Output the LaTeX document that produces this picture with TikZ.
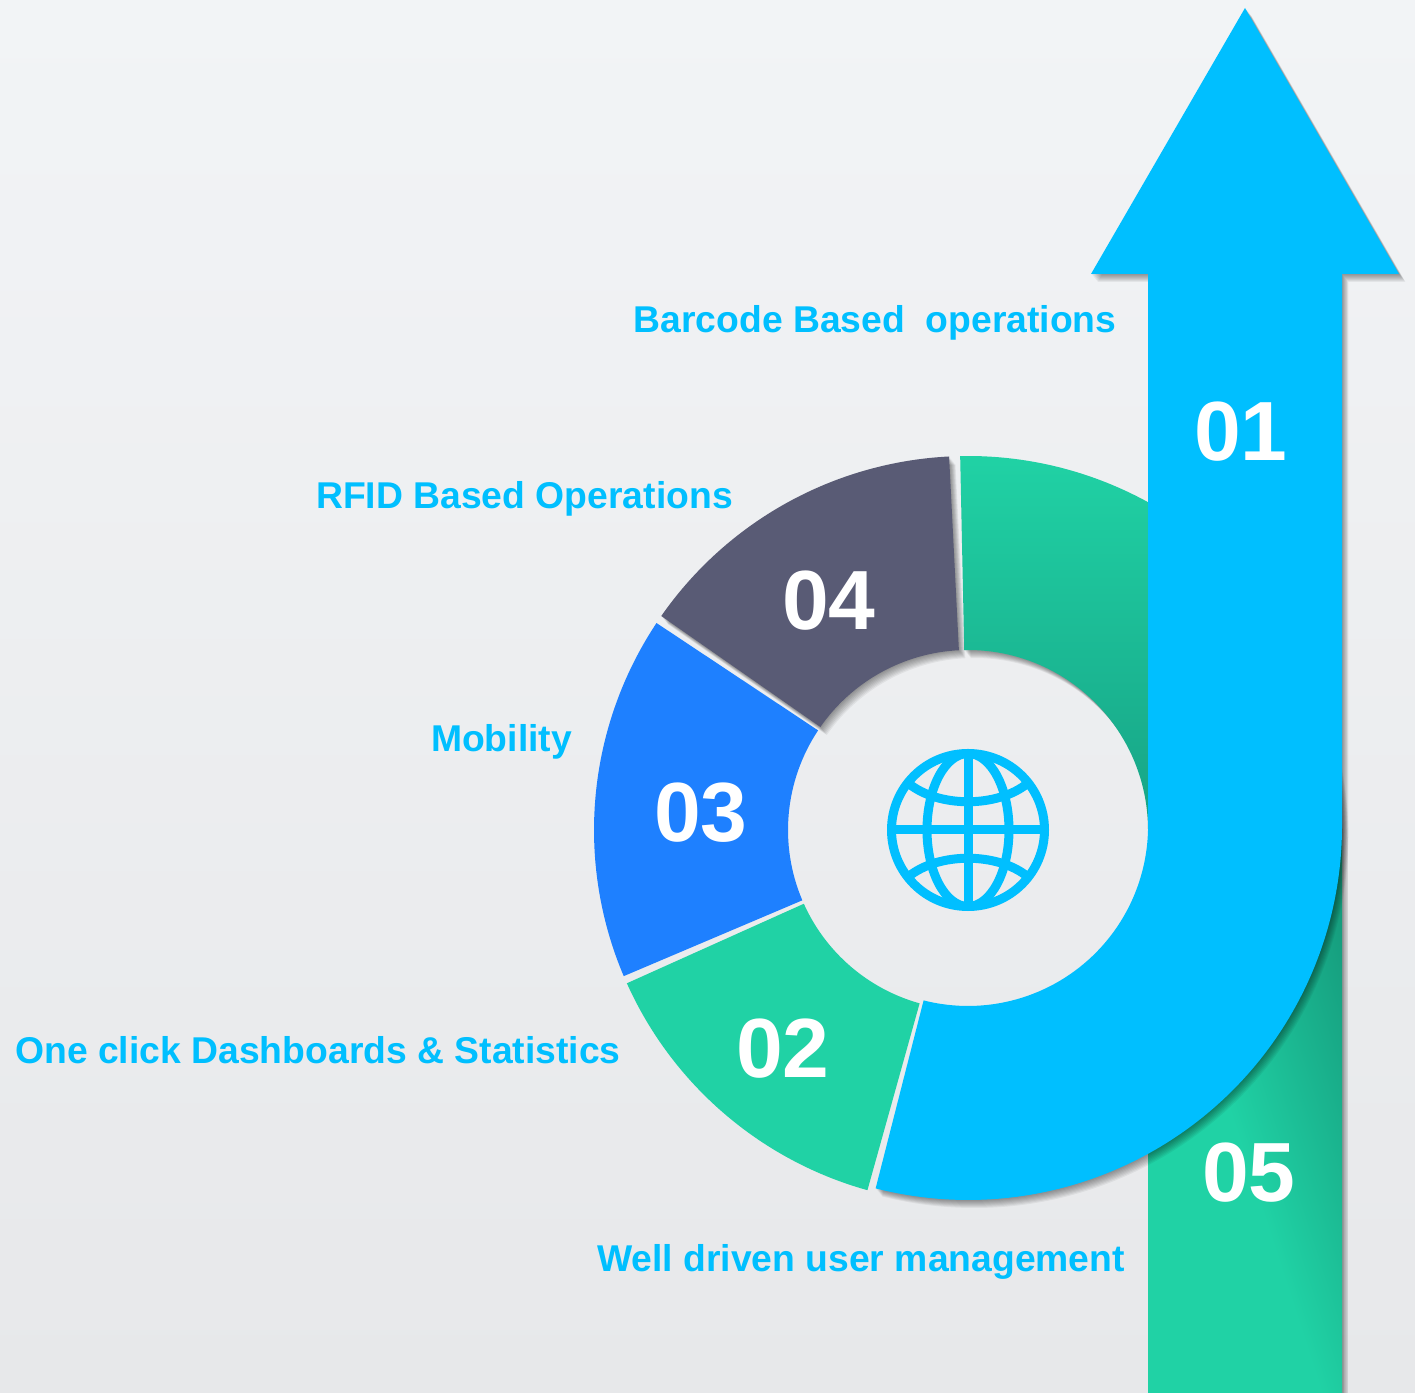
\documentclass[tikz,border=0pt]{standalone}
\usepackage{fontspec}
\setmainfont{Liberation Sans}
\definecolor{skyblue}{HTML}{00BFFF}
\definecolor{mint}{HTML}{20D2A5}
\definecolor{deepmint}{HTML}{17A385}
\definecolor{darkmint}{HTML}{08584A}
\definecolor{slate}{HTML}{595B75}
\definecolor{royal}{HTML}{1E80FF}
\definecolor{paperlight}{HTML}{F2F4F6}
\definecolor{paperdark}{HTML}{E7E8EA}
\newcommand{\Sector}[3]{(#1:#3) arc[start angle=#1, end angle=#2, radius=#3]}
\newcommand{\Ring}[2]{\Sector{#1}{#2}{374} -- \Sector{#2}{#1}{180} -- cycle}
\newcommand{\ArrowOutline}{(1245,1385) -- (1399,1119) -- (1342,1119) -- (1342,567)
  arc[start angle=0, end angle=-104.3, radius=374] -- (923.6,392.6)
  arc[start angle=-104.3, end angle=0, radius=180] -- (1148,1119) -- (1091,1119) -- cycle}
\newcommand{\SoftShadow}[1]{\foreach \s in {1,...,8}{\path[softlayer, shift={(0.8*\s,-\s)}] #1;}}
\tikzset{
  softlayer/.style={fill=black, opacity=0.055},
  caption/.style={anchor=base, text=skyblue, font=\bfseries\fontsize{18.65}{22}\selectfont, inner sep=0pt},
  number/.style={anchor=base, text=white, font=\bfseries\fontsize{42}{48}\selectfont, inner sep=0pt},
  globeline/.style={draw=skyblue, line width=4.5pt}
}

\begin{document}
\begin{tikzpicture}[x=0.5pt, y=0.5pt]

\useasboundingbox (0,0) rectangle (1415,1393);
\shade[top color=paperlight, bottom color=paperdark] (0,0) rectangle (1415,1393);

\begin{scope}[shift={(968,563)}]
\SoftShadow{\Ring{92.9}{145.1}}
\fill[slate] \Ring{92.9}{145.1};
\SoftShadow{\Ring{91.2}{0}}
\path[top color=mint, bottom color=deepmint] \Ring{91.2}{0};
\fill[royal] \Ring{146.4}{203};
\fill[mint] \Ring{204.2}{254.4};
\end{scope}

\SoftShadow{(1148,-20) rectangle (1342,563)}
\begin{scope}
\clip (1148,0) rectangle (1342,563);
\shade[top color=darkmint, bottom color=mint, middle color=mint, shading angle=-72] (875,-177) rectangle (1635,583);
\end{scope}

\SoftShadow{\ArrowOutline}
\fill[skyblue] \ArrowOutline;

\begin{scope}[shift={(968,563)}, globeline]
\draw (0,0) circle (76.5);
\draw (0,0) ellipse (41 and 76.5);
\draw (0,-76.5) -- (0,76.5);
\draw (-76.5,0) -- (76.5,0);
\draw (-60,47) .. controls (-30,22) and (30,22) .. (60,47);
\draw (-60,-47) .. controls (-30,-22) and (30,-22) .. (60,-47);
\end{scope}

\draw(1241,932) node[number] (n1) {01};
\draw(829,763) node[number] (n4) {04};
\draw(701,551) node[number] (n3) {03};
\draw(783,315) node[number] (n2) {02};
\draw(1249,191) node[number] (n5) {05};

\draw(875,1060) node[caption] (barcode) {Barcode Based\ \ operations};
\draw(524.5,884) node[caption] (rfid) {RFID Based Operations};
\draw(501.5,641) node[caption] (mobility) {Mobility};
\draw(318,329) node[caption] (stats) {One click Dashboards \& Statistics};
\draw(861,121) node[caption] (users) {Well driven user management};

\end{tikzpicture}
\end{document}
